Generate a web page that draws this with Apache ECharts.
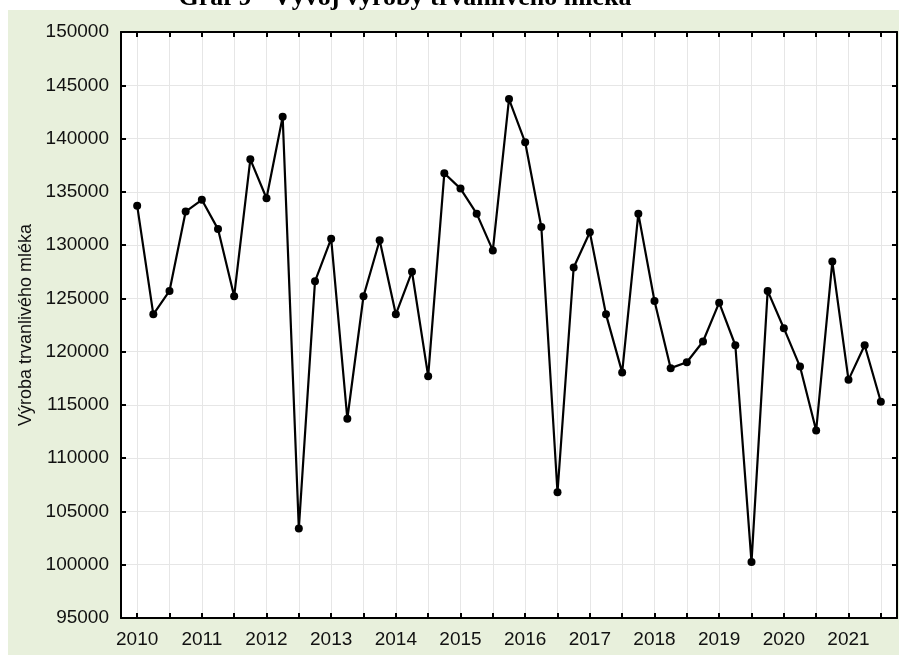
<!DOCTYPE html>
<html>
<head>
<meta charset="utf-8">
<title>Graf 9 - Vývoj výroby trvanlivého mléka</title>
<script src="https://cdn.jsdelivr.net/npm/echarts@6/dist/echarts.min.js"></script>
<style>
html, body { margin: 0; padding: 0; background: #fff; }
#wrap { position: relative; width: 899px; height: 655px; overflow: hidden; }
#panel { position: absolute; left: 8px; top: 10px; width: 891px; height: 645px; background: #e8f0dc; }
#chart { position: absolute; left: 0; top: 0; width: 899px; height: 655px; }
</style>
</head>
<body>
<div id="wrap">
  <div id="panel"></div>
  <div id="chart"></div>
</div>
<script>
// quarterly data
const quarters = [
  '2010 Q1', '2010 Q2', '2010 Q3', '2010 Q4',
  '2011 Q1', '2011 Q2', '2011 Q3', '2011 Q4',
  '2012 Q1', '2012 Q2', '2012 Q3', '2012 Q4',
  '2013 Q1', '2013 Q2', '2013 Q3', '2013 Q4',
  '2014 Q1', '2014 Q2', '2014 Q3', '2014 Q4',
  '2015 Q1', '2015 Q2', '2015 Q3', '2015 Q4',
  '2016 Q1', '2016 Q2', '2016 Q3', '2016 Q4',
  '2017 Q1', '2017 Q2', '2017 Q3', '2017 Q4',
  '2018 Q1', '2018 Q2', '2018 Q3', '2018 Q4',
  '2019 Q1', '2019 Q2', '2019 Q3', '2019 Q4',
  '2020 Q1', '2020 Q2', '2020 Q3', '2020 Q4',
  '2021 Q1', '2021 Q2', '2021 Q3'
]
const production = [
  133700, 123500, 125700, 133150,
  134250, 131500, 125200, 138050,
  134400, 142050, 103400, 126600,
  130600, 113700, 125200, 130450,
  123500, 127500, 117700, 136750,
  135300, 132950, 129500, 143700,
  139650, 131700, 106800, 127900,
  131200, 123500, 118050, 132950,
  124750, 118450, 119000, 120950,
  124600, 120600, 100250, 125700,
  122200, 118600, 112600, 128450,
  117350, 120600, 115300
]
const years = [2010, 2011, 2012, 2013, 2014, 2015, 2016, 2017, 2018, 2019, 2020, 2021]
const halfYears = years.flatMap((y) => [y, y + 0.5])

function quarterToYear(q) {
  const [y, k] = q.split(' Q')
  return Number(y) + (Number(k) - 1) / 4
}

const points = quarters.map((q, i) => [quarterToYear(q), production[i]])

const chart = echarts.init(document.getElementById('chart'), null, { renderer: 'canvas' })

const frameLine = { show: true, onZero: false, lineStyle: { color: '#000', width: 2 } }
const frameTick = { show: true, inside: true, length: 5, lineStyle: { color: '#000', width: 2 } }
const gridLine = { show: true, lineStyle: { color: '#e6e6e6', width: 1 } }
const labelFont = { fontFamily: '"Liberation Sans", Arial, sans-serif', fontSize: 19, color: '#111' }

chart.setOption({
  animation: false,
  backgroundColor: 'transparent',
  textStyle: { fontFamily: '"Liberation Sans", Arial, sans-serif' },
  graphic: [
    {
      type: 'text',
      x: 405,
      y: -2,
      z: 100,
      style: {
        text: 'Graf 9 - Vývoj výroby trvanlivého mléka',
        font: 'bold 26px "Liberation Serif", "Times New Roman", serif',
        fill: '#000',
        textAlign: 'center',
        textVerticalAlign: 'middle'
      }
    }
  ],
  grid: { left: 121, right: 2, top: 32, bottom: 37, show: true, backgroundColor: '#fff', borderWidth: 0 },
  xAxis: [
    {
      type: 'value',
      min: 2009.75,
      max: 2021.75,
      axisLine: frameLine,
      axisTick: { ...frameTick, customValues: halfYears },
      axisLabel: { ...labelFont, margin: 12, customValues: years, formatter: (v) => String(v) },
      splitLine: gridLine
    },
    {
      type: 'value',
      position: 'top',
      min: 2009.75,
      max: 2021.75,
      axisLine: frameLine,
      axisTick: { ...frameTick, customValues: halfYears },
      axisLabel: { show: false },
      splitLine: { show: false }
    }
  ],
  yAxis: [
    {
      type: 'value',
      min: 95000,
      max: 150000,
      interval: 5000,
      name: 'Výroba trvanlivého mléka',
      nameLocation: 'middle',
      nameGap: 72,
      nameTextStyle: { fontSize: 18, color: '#111' },
      axisLine: frameLine,
      axisTick: frameTick,
      axisLabel: { ...labelFont, margin: 12, formatter: (v) => String(v) },
      splitLine: gridLine
    },
    {
      type: 'value',
      position: 'right',
      min: 95000,
      max: 150000,
      interval: 5000,
      axisLine: frameLine,
      axisTick: frameTick,
      axisLabel: { show: false },
      splitLine: { show: false }
    }
  ],
  series: [
    {
      name: 'Výroba trvanlivého mléka',
      type: 'line',
      data: points,
      symbol: 'circle',
      symbolSize: 8,
      showAllSymbol: true,
      itemStyle: { color: '#000' },
      lineStyle: { color: '#000', width: 2.2 }
    }
  ]
})
</script>
</body>
</html>
